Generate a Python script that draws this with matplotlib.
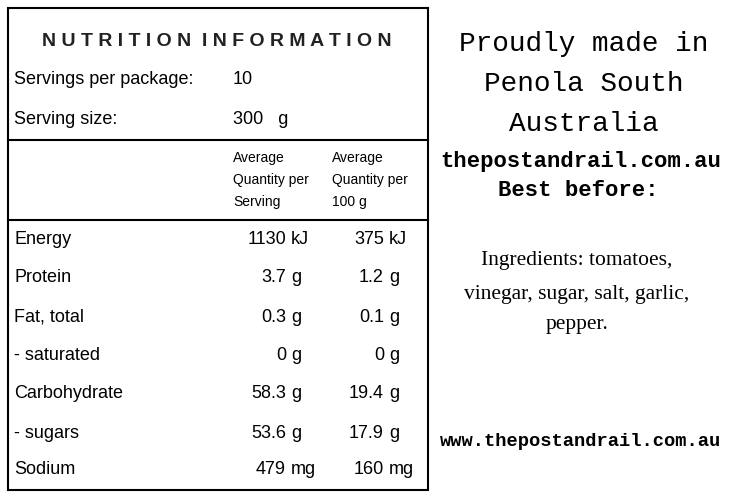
import matplotlib
matplotlib.use("Agg")
import matplotlib.pyplot as plt

nutrients = ["Energy", "Protein", "Fat, total", "- saturated", "Carbohydrate", "- sugars", "Sodium"]
per_serving = ["1130", "3.7", "0.3", "0", "58.3", "53.6", "479"]
per_100g = ["375", "1.2", "0.1", "0", "19.4", "17.9", "160"]
units = ["kJ", "g", "g", "g", "g", "g", "mg"]
ingredients = ["Ingredients: tomatoes,", "vinegar, sugar, salt, garlic,", "pepper."]

fig = plt.figure(figsize=(7.32, 4.96), dpi=100)
ax = fig.add_axes([0, 0, 1, 1])
ax.set_xlim(0, 732); ax.set_ylim(496, 0); ax.axis("off")

sans = "Liberation Sans"
fs = 13
ax.add_patch(plt.Rectangle((8, 8), 420, 482, fill=False, lw=1.5, color="black"))
ax.plot([8, 428], [140, 140], color="black", lw=1.5)
ax.plot([8, 428], [220, 220], color="black", lw=1.5)

ax.text(217, 41, " ".join("NUTRITION") + "  " + " ".join("INFORMATION"), ha="center", va="center",
        fontsize=14, fontweight="bold", family=sans, color="#222")
ax.text(14, 80, "Servings per package:", va="center", fontsize=fs, family=sans)
ax.text(233, 80, "10", va="center", fontsize=fs, family=sans)
ax.text(14, 120, "Serving size:", va="center", fontsize=fs, family=sans)
ax.text(233, 120, "300   g", va="center", fontsize=fs, family=sans)
for i, t in enumerate(["Average", "Quantity per", "Serving"]):
    ax.text(233, 158 + i * 22, t, va="center", fontsize=10, family=sans)
for i, t in enumerate(["Average", "Quantity per", "100 g"]):
    ax.text(332, 158 + i * 22, t, va="center", fontsize=10, family=sans)

ys = [240, 277, 317, 355, 393, 433, 470]
for y, n, s, h, u in zip(ys, nutrients, per_serving, per_100g, units):
    ax.text(14, y, n, va="center", fontsize=fs, family=sans)
    ax.text(286, y, s, va="center", ha="right", fontsize=fs, family=sans)
    ax.text(291, y, u, va="center", fontsize=fs, family=sans)
    ax.text(384, y, h, va="center", ha="right", fontsize=fs, family=sans)
    ax.text(389, y, u, va="center", fontsize=fs, family=sans)

mono = "Liberation Mono"
for y, t in zip([44, 84, 124], ["Proudly made in", "Penola South", "Australia"]):
    ax.text(584, y, t, ha="center", va="center", fontsize=20, family=mono)
ax.text(581, 162, "thepostandrail.com.au", ha="center", va="center", fontsize=16, family=mono, fontweight="bold")
ax.text(578, 191, "Best before:", ha="center", va="center", fontsize=16, family=mono, fontweight="bold")
for y, t in zip([260, 294, 325], ingredients):
    ax.text(577, y, t, ha="center", va="center", fontsize=15.5, family="Liberation Serif")
ax.text(581, 441, "www.thepostandrail.com.au", ha="center", va="center", fontsize=13.5, family=mono, fontweight="bold")

fig.savefig("out.png", dpi=100)
